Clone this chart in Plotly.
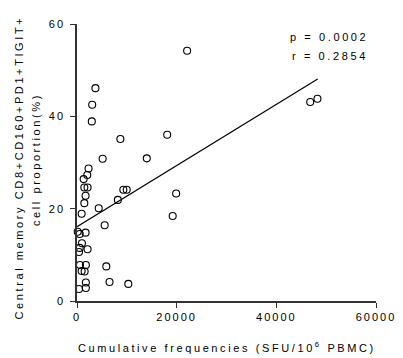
import plotly.graph_objects as go

# Data
sfu = [22100, 3700, 3050, 2970, 8700, 18100, 5150, 14000, 2320, 2060,
       1330, 1470, 2120, 1720, 1470, 930, 4360, 8200, 9300, 9980,
       19900, 19200, 5550, 140, 540, 1720, 990, 540, 2120, 400,
       590, 1780, 930, 1530, 5880, 6530, 10300, 1780, 400, 1780,
       46800, 48250]
proportion = [54.2, 46.1, 42.5, 38.9, 35.1, 36.0, 30.8, 30.9, 28.7, 27.3,
              26.4, 24.6, 24.6, 22.8, 21.2, 18.9, 20.1, 21.9, 24.1, 24.1,
              23.3, 18.4, 16.4, 15.0, 14.5, 14.8, 12.5, 11.5, 11.2, 10.6,
              7.8, 7.8, 6.5, 6.4, 7.5, 4.1, 3.7, 4.0, 2.6, 2.8,
              43.1, 43.8]
fit_x = [0, 48300]
fit_y = [16.1, 48.1]
x_ticks = [0, 20000, 40000, 60000]
y_ticks = [0, 20, 40, 60]
stats_text = ["p = 0.0002", "r = 0.2854"]
y_title_lines = ["Central memory CD8+CD160+PD1+TIGIT+", "cell proportion(%)"]
x_title = "Cumulative frequencies (SFU/10<sup>6</sup> PBMC)"

FONT = "Liberation Sans, Arial, sans-serif"
W, H = 403, 358
L, R, T, B = 77, 22, 24, 57
PW, PH = W - L - R, H - T - B


def px_x(p):
    return (p - L) / PW


def px_y(p):
    return 1 - (p - T) / PH


fig = go.Figure()
fig.add_trace(go.Scatter(
    x=fit_x, y=fit_y, mode="lines",
    line=dict(color="black", width=1.2), showlegend=False, hoverinfo="skip"))
fig.add_trace(go.Scatter(
    x=sfu, y=proportion, mode="markers",
    marker=dict(symbol="circle-open", size=7, color="black", line=dict(width=1.1)),
    showlegend=False, cliponaxis=False))

for txt, ypix in zip(stats_text, [37, 56]):
    fig.add_annotation(text=txt, x=px_x(362), xref="paper", xanchor="right",
                       y=px_y(ypix), yref="paper", yanchor="middle", showarrow=False,
                       font=dict(family=FONT, size=11, color="black"))

for txt, xpix, ypix in zip(y_title_lines, [18, 35], [167, 160]):
    fig.add_annotation(text=txt, x=px_x(xpix), xref="paper", xanchor="center",
                       y=px_y(ypix), yref="paper", yanchor="middle", showarrow=False,
                       textangle=-90, font=dict(family=FONT, size=11, color="black"))

fig.add_annotation(text=x_title, x=px_x(229), xref="paper", xanchor="center",
                   y=px_y(347), yref="paper", yanchor="middle", showarrow=False,
                   font=dict(family=FONT, size=11, color="black"))

fig.update_layout(
    width=W, height=H,
    margin=dict(l=L, r=R, t=T, b=B),
    paper_bgcolor="white", plot_bgcolor="white",
    font=dict(family=FONT, size=11, color="black"),
    xaxis=dict(range=[0, 60000], tickvals=x_ticks, ticktext=[str(v) for v in x_ticks],
               showgrid=False, zeroline=False, showline=True, linecolor="#333", linewidth=1.5,
               ticks="outside", ticklen=5, tickwidth=1.2, tickcolor="#333",
               tickfont=dict(size=11)),
    yaxis=dict(range=[0, 60], tickvals=y_ticks, ticktext=[str(v) for v in y_ticks],
               showgrid=False, zeroline=False, showline=True, linecolor="#333", linewidth=1.5,
               ticks="outside", ticklen=5, tickwidth=1.2, tickcolor="#333",
               ticklabelstandoff=3, tickfont=dict(size=11)),
)

post = """
document.body.style.margin = '0';
document.querySelectorAll('.xtick text, .ytick text').forEach(function(e){ e.style.letterSpacing = '2px'; });
document.querySelectorAll('.annotation-text').forEach(function(e){ e.style.letterSpacing = '2.6px'; });
"""
fig.write_html("out.html", post_script=post, config={"displayModeBar": False})
